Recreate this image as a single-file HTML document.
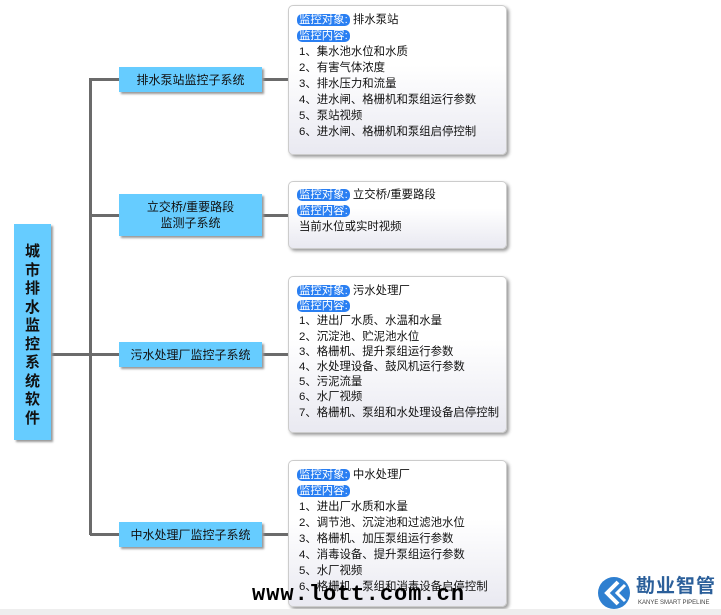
<!DOCTYPE html>
<html><head><meta charset="utf-8"><style>
body{margin:0;width:721px;height:615px;background:#fff;position:relative;overflow:hidden;font-family:"Liberation Sans","Noto Sans CJK SC",sans-serif;}
.l{position:absolute;background:#6b6b6b;}
.sub{position:absolute;left:119px;width:143px;background:#66ccff;box-shadow:2px 2px 2px #999;display:flex;align-items:center;justify-content:center;text-align:center;font-size:12px;line-height:16px;color:#111;}
.d{position:absolute;left:288px;width:219px;border:1px solid #ccc;border-radius:5px;background:linear-gradient(#fff 40%,#e9e9f1);box-shadow:2px 2px 3px #999;font-size:11.4px;color:#111;padding:5px 0 0 8px;box-sizing:border-box;}
.d div{height:16px;line-height:16px;white-space:nowrap;}
.t{background:#2a7ff2;color:#fff;border-radius:5px;padding:0 2px;}
.i{padding-left:2px;}
</style></head><body>
<div class="l" style="left:89px;top:78px;width:3px;height:457px"></div>
<div class="l" style="left:51px;top:353px;width:38px;height:3px"></div>
<div class="l" style="left:90px;top:78px;width:30px;height:3px"></div>
<div class="l" style="left:90px;top:214px;width:30px;height:3px"></div>
<div class="l" style="left:90px;top:353px;width:30px;height:3px"></div>
<div class="l" style="left:90px;top:533px;width:30px;height:3px"></div>
<div class="l" style="left:262px;top:78px;width:27px;height:3px"></div>
<div class="l" style="left:262px;top:214px;width:27px;height:3px"></div>
<div class="l" style="left:262px;top:353px;width:27px;height:3px"></div>
<div class="l" style="left:262px;top:533px;width:27px;height:3px"></div>
<div style="position:absolute;left:14px;top:224px;width:37px;height:216px;background:#66ccff;box-shadow:2px 2px 2px #999;font-size:15px;font-weight:bold;line-height:18.5px;text-align:center;padding-top:19px;box-sizing:border-box;color:#111">城<br>市<br>排<br>水<br>监<br>控<br>系<br>统<br>软<br>件</div>
<div class="sub" style="top:67px;height:25px">排水泵站监控子系统</div>
<div class="sub" style="top:194px;height:42px">立交桥/重要路段<br>监测子系统</div>
<div class="sub" style="top:342px;height:25px">污水处理厂监控子系统</div>
<div class="sub" style="top:522px;height:25px">中水处理厂监控子系统</div>
<div class="d" style="top:5px;height:150px;padding-top:6px">
<div><span class="t">监控对象:</span> 排水泵站</div><div><span class="t">监控内容:</span></div>
<div class="i">1、集水池水位和水质</div><div class="i">2、有害气体浓度</div><div class="i">3、排水压力和流量</div><div class="i">4、进水闸、格栅机和泵组运行参数</div><div class="i">5、泵站视频</div><div class="i">6、进水闸、格栅机和泵组启停控制</div></div>
<div class="d" style="top:181px;height:68px;padding-top:5px">
<div><span class="t">监控对象:</span> 立交桥/重要路段</div><div><span class="t">监控内容:</span></div><div class="i">当前水位或实时视频</div></div>
<div class="d" style="top:276px;height:157px;padding-top:7px">
<div style="height:15.2px;line-height:15px"><span class="t">监控对象:</span> 污水处理厂</div><div style="height:15.2px;line-height:15px"><span class="t">监控内容:</span></div>
<div class="i" style="height:15.2px;line-height:15px">1、进出厂水质、水温和水量</div><div class="i" style="height:15.2px;line-height:15px">2、沉淀池、贮泥池水位</div><div class="i" style="height:15.2px;line-height:15px">3、格栅机、提升泵组运行参数</div><div class="i" style="height:15.2px;line-height:15px">4、水处理设备、鼓风机运行参数</div><div class="i" style="height:15.2px;line-height:15px">5、污泥流量</div><div class="i" style="height:15.2px;line-height:15px">6、水厂视频</div><div class="i" style="height:15.2px;line-height:15px">7、格栅机、泵组和水处理设备启停控制</div></div>
<div class="d" style="top:460px;height:147px;padding-top:6px">
<div><span class="t">监控对象:</span> 中水处理厂</div><div><span class="t">监控内容:</span></div>
<div class="i">1、进出厂水质和水量</div><div class="i">2、调节池、沉淀池和过滤池水位</div><div class="i">3、格栅机、加压泵组运行参数</div><div class="i">4、消毒设备、提升泵组运行参数</div><div class="i">5、水厂视频</div><div class="i">6、格栅机、泵组和消毒设备启停控制</div></div>
<div style="position:absolute;left:252px;top:582px;font-family:'Liberation Mono',monospace;font-weight:bold;font-size:22px;letter-spacing:1px;color:#000;line-height:26px">www.lott.com.cn</div>
<div style="position:absolute;left:0;top:609px;width:721px;height:6px;background:#eee"></div>
<svg style="position:absolute;left:596px;top:575px" width="36" height="36"><circle cx="18" cy="18" r="16" fill="#2e7fd0"/><path d="M22 7 L11 18 L22 29" stroke="#fff" stroke-width="4" fill="none"/><path d="M29 10 L21 18 L29 26" stroke="#fff" stroke-width="3" fill="none"/></svg>
<div style="position:absolute;left:636px;top:576px;font-size:19px;font-weight:bold;color:#2b5f9a;letter-spacing:1px;line-height:22px">勘业智管</div>
<div style="position:absolute;left:638px;top:599px;font-size:6px;color:#444;line-height:8px">KANYE SMART PIPELINE</div>
</body></html>
